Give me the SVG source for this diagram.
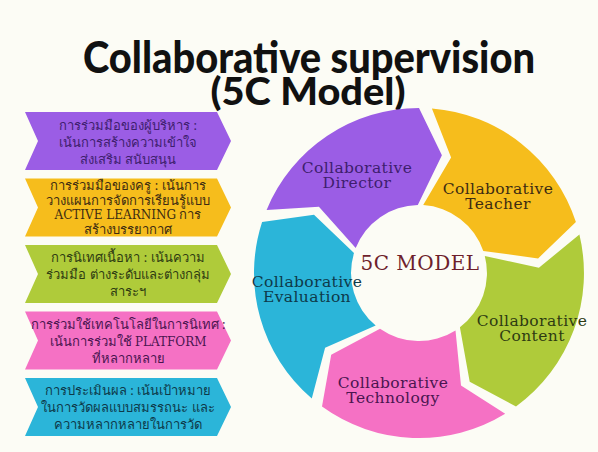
<svg xmlns="http://www.w3.org/2000/svg" width="598" height="452" viewBox="0 0 598 452">
<style>
.title{font-family:"Lato","Open Sans",sans-serif;font-weight:900;fill:#111;text-anchor:middle}
.lbl{font-family:"DejaVu Serif",serif;font-size:15.5px;letter-spacing:0.4px;text-anchor:middle}
.th{font-family:"Noto Sans","DejaVu Sans",sans-serif;font-size:13px;text-anchor:middle}
.en{font-family:"DejaVu Serif",serif;font-size:12px}
.purple{fill:#9B5DE5}.yellow{fill:#F6BD1C}.green{fill:#AFCB3A}.pink{fill:#F571C4}.blue{fill:#2BB5D9}
.tp{fill:#3E1D6E}.ty{fill:#3D2C12}.tg{fill:#2E3B12}.tk{fill:#4A1550}.tb{fill:#0E3A4A}
</style>
<rect width="598" height="452" fill="#FCFCF5"/>
<g id="title">
<text class="title" x="309" y="73" font-size="43" textLength="452" lengthAdjust="spacingAndGlyphs">Collaborative supervision</text>
<text class="title" x="308" y="105" font-size="37" textLength="195" lengthAdjust="spacingAndGlyphs">(5C Model)</text>
</g>
<g id="ring">
<g id="seg-director">
<path class="purple" d="M266.6,209.9 A165,165 0 0 1 419,108 L441.9,155.2 L417.8,205.0 A68,68 0 0 0 355.7,248.1 L318.9,206.8 Z"/>
<text class="lbl tp" x="357" y="173">Collaborative<tspan x="357" y="188">Director</tspan></text>
</g>
<g id="seg-teacher">
<path class="yellow" d="M431.9,108.5 A165,165 0 0 1 575.9,222.0 L538.1,258.4 L483.3,250.9 A68,68 0 0 0 423.2,205.1 L451.1,157.4 Z"/>
<text class="lbl ty" x="498" y="194">Collaborative<tspan x="498" y="209">Teacher</tspan></text>
</g>
<g id="seg-content">
<path class="green" d="M579.4,234.5 A165,165 0 0 1 516.0,406.5 L469.7,381.8 L459.9,327.3 A68,68 0 0 0 484.8,256.0 L538.9,267.8 Z"/>
<text class="lbl tg" x="532" y="326">Collaborative<tspan x="532" y="341">Content</tspan></text>
</g>
<g id="seg-technology">
<path class="pink" d="M505.2,413.7 A165,165 0 0 1 322.0,406.5 L331.2,354.8 L380.0,328.7 A68,68 0 0 0 455.5,330.4 L461.0,385.4 Z"/>
<text class="lbl tk" x="393" y="388">Collaborative<tspan x="393" y="403">Technology</tspan></text>
</g>
<g id="seg-evaluation">
<path class="blue" d="M311.8,398.5 A165,165 0 0 1 262.1,222.0 L314.0,214.8 L354.0,253.1 A68,68 0 0 0 375.7,325.5 L325.1,347.7 Z"/>
<text class="lbl tb" x="307" y="287">Collaborative<tspan x="307" y="302">Evaluation</tspan></text>
</g>
<g id="center">
<text x="420" y="270" font-family="DejaVu Serif, serif" font-size="20" letter-spacing="0.5" fill="#6E1F2C" text-anchor="middle">5C MODEL</text>
</g>
</g>
<g id="panels">
<g id="panel-director">
<polygon class="purple" points="25,112 217,112 231,141 217,170 25,170 38,141"/>
<text class="th tp" x="128" y="130">การร่วมมือของผู้บริหาร :</text>
<text class="th tp" x="128" y="147">เน้นการสร้างความเข้าใจ</text>
<text class="th tp" x="128" y="164">ส่งเสริม สนับสนุน</text>
</g>
<g id="panel-teacher">
<polygon class="yellow" points="25,178.5 217,178.5 231,207.5 217,236.5 25,236.5 38,207.5"/>
<text class="th ty" x="128" y="190" font-size="12.5">การร่วมมือของครู : เน้นการ</text>
<text class="th ty" x="128" y="204.5" font-size="12.5">วางแผนการจัดการเรียนรู้แบบ</text>
<text class="th ty" x="128" y="219" font-size="12.5"><tspan class="en">ACTIVE LEARNING</tspan> การ</text>
<text class="th ty" x="128" y="233.5" font-size="12.5">สร้างบรรยากาศ</text>
</g>
<g id="panel-content">
<polygon class="green" points="25,245 217,245 231,274 217,303 25,303 38,274"/>
<text class="th tg" x="128" y="262">การนิเทศเนื้อหา : เน้นความ</text>
<text class="th tg" x="128" y="279">ร่วมมือ ต่างระดับและต่างกลุ่ม</text>
<text class="th tg" x="128" y="296">สาระฯ</text>
</g>
<g id="panel-technology">
<polygon class="pink" points="25,311.5 217,311.5 231,340.5 217,369.5 25,369.5 38,340.5"/>
<text class="th tk" x="128" y="329">การร่วมใช้เทคโนโลยีในการนิเทศ :</text>
<text class="th tk" x="128" y="346">เน้นการร่วมใช้ <tspan class="en" font-size="13.5">PLATFORM</tspan></text>
<text class="th tk" x="128" y="363">ที่หลากหลาย</text>
</g>
<g id="panel-evaluation">
<polygon class="blue" points="25,378 217,378 231,407 217,436 25,436 38,407"/>
<text class="th tb" x="128" y="395">การประเมินผล : เน้นเป้าหมาย</text>
<text class="th tb" x="128" y="412">ในการวัดผลแบบสมรรถนะ และ</text>
<text class="th tb" x="128" y="429">ความหลากหลายในการวัด</text>
</g>
</g>
</svg>
